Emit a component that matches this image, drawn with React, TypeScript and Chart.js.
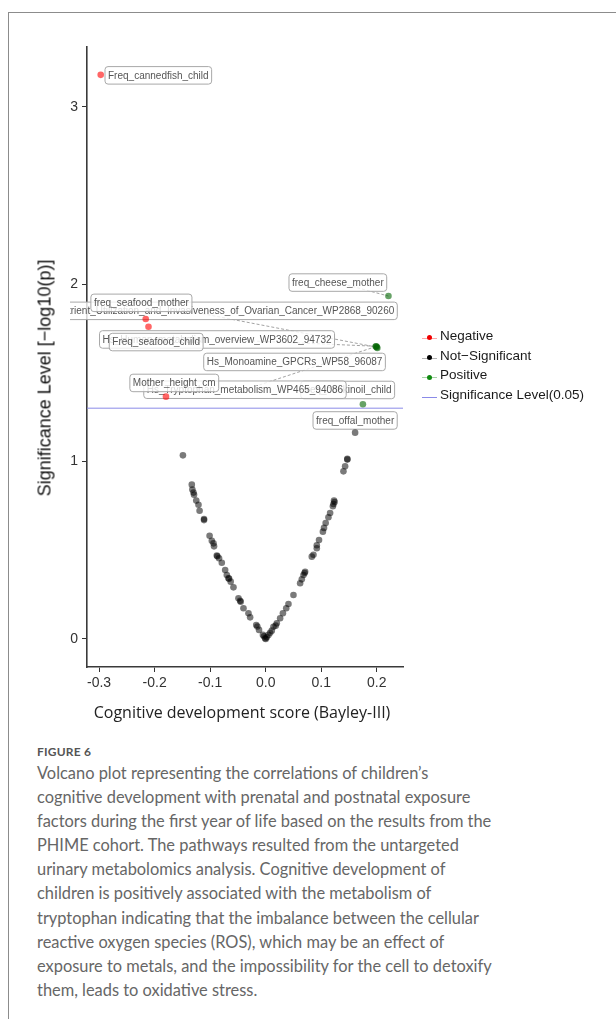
import React, { useEffect, useRef } from "react";
import { Chart, registerables } from "chart.js";

Chart.register(...registerables);

// Features that did not reach significance: correlation with the Bayley-III score and -log10(p)
const nsX = [
  -0.149, -0.133, -0.132, -0.130, -0.129, -0.125, -0.121, -0.119, -0.111, -0.111,
  -0.101, -0.097, -0.094, -0.093, -0.088, -0.087, -0.084, -0.079, -0.073, -0.070,
  -0.067, -0.066, -0.063, -0.058, -0.049, -0.046, -0.045, -0.040, -0.031, -0.028,
  -0.017, -0.015, -0.012, -0.005, -0.003, -0.001, 0.000, 0.002, 0.005, 0.008,
  0.011, 0.014, 0.018, 0.020, 0.026, 0.031, 0.037, 0.041, 0.050, 0.062,
  0.065, 0.068, 0.070, 0.071, 0.083, 0.086, 0.092, 0.092, 0.096, 0.103,
  0.105, 0.108, 0.113, 0.116, 0.121, 0.122, 0.123, 0.124, 0.140, 0.143,
  0.147, 0.147,
];
const nsY = [
  1.035, 0.870, 0.842, 0.825, 0.813, 0.780, 0.757, 0.723, 0.676, 0.670,
  0.582, 0.554, 0.539, 0.522, 0.470, 0.466, 0.455, 0.430, 0.389, 0.361,
  0.342, 0.340, 0.323, 0.291, 0.229, 0.215, 0.210, 0.173, 0.145, 0.122,
  0.079, 0.070, 0.051, 0.023, 0.015, 0.004, 0.000, 0.010, 0.023, 0.035,
  0.047, 0.069, 0.075, 0.088, 0.117, 0.145, 0.173, 0.197, 0.248, 0.314,
  0.336, 0.361, 0.372, 0.379, 0.464, 0.475, 0.511, 0.528, 0.558, 0.605,
  0.626, 0.654, 0.686, 0.710, 0.748, 0.761, 0.780, 0.772, 0.945, 0.974,
  1.011, 1.015,
];

// Named features, listed in the order their labels are painted
const featureNames = [
  "Hs_TCA_Cycle_Nutrient_Utilization_and_Invasiveness_of_Ovarian_Cancer_WP2868_90260",
  "Hs_Human_metabolism_overview_WP3602_94732",
  "freq_cookinoil_child",
  "Hs_Tryptophan_metabolism_WP465_94086",
  "Hs_Monoamine_GPCRs_WP58_96087",
  "freq_cheese_mother",
  "Freq_cannedfish_child",
  "freq_seafood_mother",
  "Freq_seafood_child",
  "Mother_height_cm",
  "freq_offal_mother",
];
const featureX = [0.200, 0.199, 0.175, 0.198, 0.201, 0.221, -0.297, -0.216, -0.211, -0.1795, 0.161];
const featureY = [1.645, 1.650, 1.323, 1.648, 1.640, 1.933, 3.180, 1.804, 1.760, 1.366, 1.163];
const featureGroup = [
  "Positive", "Positive", "Positive", "Positive", "Positive", "Positive",
  "Negative", "Negative", "Negative", "Negative", "Not-Significant",
];

// Label box placement, in pixels from the labelled point (layout only)
const labelDx = [-189, -159.2, -15.2, -130.7, -82.8, -50.6, 57.6, -4.3, 7.7, 8.3, 0];
const labelDy = [-36.3, -6.8, -14.3, 43.1, 13.9, -13.5, 0.5, -16.1, 15.3, -13.7, -12.2];
const labelSegment = [true, true, false, true, false, true, false, false, false, false, false];

const significanceP = 0.05;
const sigLevel = -Math.log10(significanceP);

const xTicks = [-0.3, -0.2, -0.1, 0, 0.1, 0.2];
const yTicks = [0, 1, 2, 3];
const xRange = [-0.3217, 0.2472];
const yRange = [-0.158, 3.337];

const legendLabels = ["Negative", "Not\u2212Significant", "Positive", "Significance Level(0.05)"];
const legendDot = ["#f00000", "#000000", "#118a11", ""];
const legendLine = ["rgba(255,0,0,0.35)", "rgba(0,0,0,0.3)", "rgba(0,130,0,0.35)", "#8a8ae8"];

const captionLines = [
  "Volcano plot representing the correlations of children\u2019s",
  "cognitive development with prenatal and postnatal exposure",
  "factors during the first year of life based on the results from the",
  "PHIME cohort. The pathways resulted from the untargeted",
  "urinary metabolomics analysis. Cognitive development of",
  "children is positively associated with the metabolism of",
  "tryptophan indicating that the imbalance between the cellular",
  "reactive oxygen species (ROS), which may be an effect of",
  "exposure to metals, and the impossibility for the cell to detoxify",
  "them, leads to oxidative stress.",
];

const groupColor: Record<string, string> = {
  Negative: "rgba(255,0,0,0.6)",
  Positive: "rgba(0,100,0,0.6)",
  "Not-Significant": "rgba(0,0,0,0.52)",
};

const ARIAL = "'Liberation Sans', Arial, sans-serif";

// Repel-style text labels with optional dashed leader lines
const featureLabels = {
  id: "featureLabels",
  beforeDatasetsDraw(chart: any) {
    const { ctx, chartArea, scales } = chart;
    ctx.save();
    ctx.beginPath();
    ctx.rect(70, chartArea.top, chartArea.right - 70, chartArea.bottom - chartArea.top);
    ctx.clip();
    ctx.font = `10px ${ARIAL}`;
    const boxes = featureNames.map((name, i) => {
      const px = scales.x.getPixelForValue(featureX[i]);
      const py = scales.y.getPixelForValue(featureY[i]);
      const w = ctx.measureText(name).width + 6;
      const h = 17.5;
      return { name, px, py, cx: px + labelDx[i], cy: py + labelDy[i], w, h };
    });
    // leader lines sit beneath the boxes
    ctx.setLineDash([3, 2]);
    ctx.strokeStyle = "rgba(90,90,90,0.7)";
    ctx.lineWidth = 0.8;
    boxes.forEach((b, i) => {
      if (!labelSegment[i]) return;
      ctx.beginPath();
      ctx.moveTo(b.cx, b.cy);
      ctx.lineTo(b.px, b.py);
      ctx.stroke();
    });
    ctx.setLineDash([]);
    boxes.forEach((b) => {
      const x0 = b.cx - b.w / 2;
      const y0 = b.cy - b.h / 2;
      ctx.beginPath();
      ctx.roundRect(x0, y0, b.w, b.h, 3);
      ctx.fillStyle = "rgba(255,255,255,0.8)";
      ctx.fill();
      ctx.strokeStyle = "#a8a8a8";
      ctx.lineWidth = 1;
      ctx.stroke();
      ctx.fillStyle = "#555";
      ctx.textAlign = "center";
      ctx.textBaseline = "middle";
      ctx.fillText(b.name, b.cx, b.cy + 0.5);
    });
    ctx.restore();
  },
};

export default function App() {
  const canvasRef = useRef<HTMLCanvasElement>(null);

  useEffect(() => {
    const neg = featureNames.map((_, i) => i).filter((i) => featureGroup[i] === "Negative");
    const pos = featureNames.map((_, i) => i).filter((i) => featureGroup[i] === "Positive");
    const ns = featureNames.map((_, i) => i).filter((i) => featureGroup[i] === "Not-Significant");

    const nsPoints = nsX.map((x, i) => ({ x, y: nsY[i] }));
    ns.forEach((i) => nsPoints.push({ x: featureX[i], y: featureY[i] }));

    const tickFont = { family: ARIAL, size: 14 };

    const chart = new Chart(canvasRef.current!, {
      type: "scatter",
      data: {
        datasets: [
          {
            label: "Negative",
            data: neg.map((i) => ({ x: featureX[i], y: featureY[i] })),
            backgroundColor: groupColor.Negative,
            borderWidth: 0,
            pointRadius: 3.3,
          },
          {
            label: "Positive",
            data: pos.map((i) => ({ x: featureX[i], y: featureY[i] })),
            backgroundColor: groupColor.Positive,
            borderWidth: 0,
            pointRadius: 3.3,
          },
          {
            label: "Not-Significant",
            data: nsPoints,
            backgroundColor: groupColor["Not-Significant"],
            borderWidth: 0,
            pointRadius: 3.3,
          },
          {
            type: "line",
            label: "Significance Level(0.05)",
            data: [
              { x: xRange[0], y: sigLevel },
              { x: xRange[1], y: sigLevel },
            ],
            borderColor: "#8a8ae8",
            borderWidth: 1,
            pointRadius: 0,
          } as any,
        ],
      },
      options: {
        responsive: false,
        devicePixelRatio: 1,
        animation: false,
        events: [],
        layout: { padding: { left: 0, top: 47, right: 213, bottom: 0 } },
        plugins: { legend: { display: false }, tooltip: { enabled: false } },
        scales: {
          x: {
            type: "linear",
            min: xRange[0],
            max: xRange[1],
            z: 1,
            afterBuildTicks: (s: any) => {
              s.ticks = xTicks.map((value) => ({ value }));
            },
            afterFit: (s: any) => {
              s.height = 73;
            },
            ticks: {
              callback: (v: any) => Number(v).toFixed(1),
              font: tickFont,
              color: "#333",
              padding: 3,
              maxRotation: 0,
              autoSkip: false,
            },
            grid: { display: true, drawOnChartArea: false, drawTicks: true, tickLength: 5, color: "#333" },
            border: { display: true, color: "#3a3a3a", width: 1.6 },
          },
          y: {
            type: "linear",
            min: yRange[0],
            max: yRange[1],
            z: 1,
            afterBuildTicks: (s: any) => {
              s.ticks = yTicks.map((value) => ({ value }));
            },
            afterFit: (s: any) => {
              s.width = 87;
            },
            ticks: {
              callback: (v: any) => String(v),
              font: tickFont,
              color: "#333",
              padding: 4,
              autoSkip: false,
            },
            grid: { display: true, drawOnChartArea: false, drawTicks: true, tickLength: 5, color: "#333" },
            border: { display: true, color: "#3a3a3a", width: 1.6 },
          },
        },
      },
      plugins: [featureLabels],
    } as any);

    return () => chart.destroy();
  }, []);

  const legendTop = [337.7, 357.7, 377.3, 397.3];

  return (
    <div style={{ position: "fixed", inset: 0, overflow: "hidden", background: "#fff" }}>
      <div
        style={{
          position: "absolute",
          left: 8,
          top: 12,
          width: 700,
          height: 1100,
          border: "1px solid #8c8c8c",
          boxSizing: "border-box",
        }}
      />
      <canvas
        ref={canvasRef}
        width={616}
        height={740}
        style={{ position: "absolute", left: 0, top: 0, width: 616, height: 740 }}
      />
      <div
        style={{
          position: "absolute",
          left: 45,
          top: 378,
          transform: "translate(-50%, -50%) rotate(-90deg)",
          font: `18px ${ARIAL}`,
          color: "#111",
          whiteSpace: "nowrap",
        }}
      >
        Significance Level [{"\u2212"}log10(p)]
      </div>
      <div
        style={{
          position: "absolute",
          left: 242,
          top: 712,
          transform: "translate(-50%, -50%)",
          font: "16px 'Open Sans', sans-serif",
          color: "#222",
          whiteSpace: "nowrap",
        }}
      >
        Cognitive development score (Bayley-III)
      </div>
      {legendLabels.map((label, i) => (
        <div key={label} style={{ position: "absolute", left: 421, top: legendTop[i] - 10, height: 20, width: 190 }}>
          <div
            style={{
              position: "absolute",
              left: 1,
              top: 10,
              width: 15,
              height: 1,
              background: legendLine[i],
            }}
          />
          {legendDot[i] && (
            <div
              style={{
                position: "absolute",
                left: 5.5,
                top: 7.5,
                width: 5,
                height: 5,
                borderRadius: "50%",
                background: legendDot[i],
              }}
            />
          )}
          <div
            style={{
              position: "absolute",
              left: 19,
              top: 0,
              lineHeight: "20px",
              font: `13.5px ${ARIAL}`,
              color: "#1a1a1a",
              whiteSpace: "nowrap",
            }}
          >
            {label}
          </div>
        </div>
      ))}
      <div
        style={{
          position: "absolute",
          left: 37,
          top: 744,
          font: "700 12px Lato, sans-serif",
          letterSpacing: "0.2px",
          color: "#555",
          lineHeight: "16px",
        }}
      >
        FIGURE 6
      </div>
      <div
        style={{
          position: "absolute",
          left: 37,
          top: 761,
          font: "16.4px Lato, sans-serif",
          color: "#666",
          lineHeight: "24.1px",
        }}
      >
        {captionLines.map((line) => (
          <div key={line} style={{ whiteSpace: "nowrap" }}>
            {line}
          </div>
        ))}
      </div>
    </div>
  );
}
